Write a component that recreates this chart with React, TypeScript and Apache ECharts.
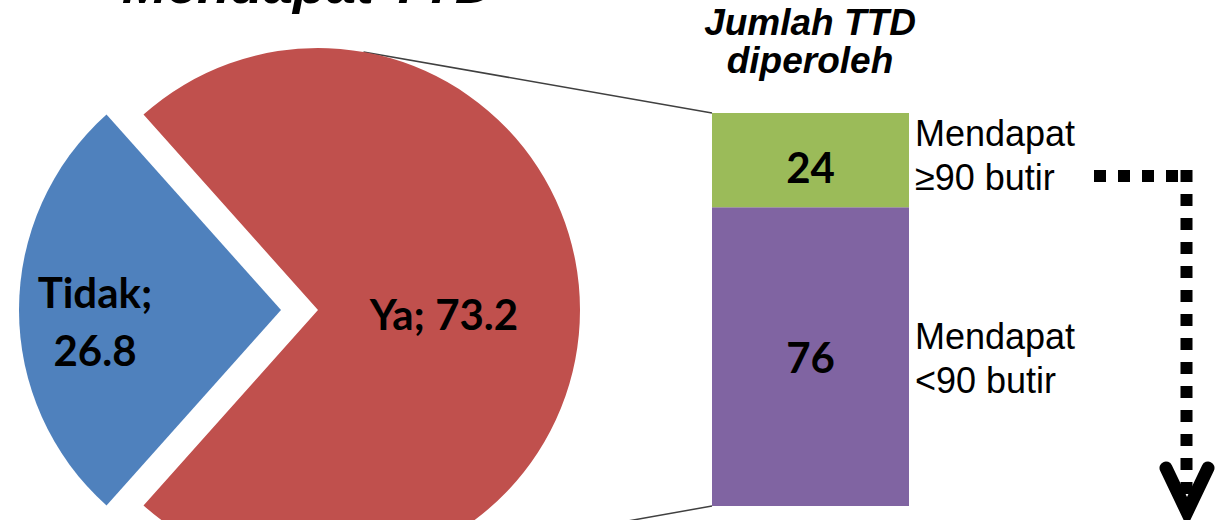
import React, { useEffect, useRef } from "react";
import * as echarts from "echarts";

const pieNames = ["Tidak", "Ya"];
const pieValues = [26.8, 73.2];
const barCategory = ["TTD"];
const barNames = ["Mendapat\n<90 butir", "Mendapat\n≥90 butir"];
const barValues = [76, 24];
const mainTitle = "Mendapat TTD";
const barTitle = "Jumlah TTD\ndiperoleh";

const W = 1219;
const H = 520;
const PIE_CX = 318;
const PIE_CY = 310;
const PIE_R = 262;
const EXPLODE = 37;
const GRID_LEFT = 712;
const GRID_TOP = 113;
const GRID_W = 197;
const GRID_H = 393;

const BLUE = "#4F81BD";
const RED = "#C0504D";
const GREEN = "#9BBB59";
const PURPLE = "#8064A2";

export default function App() {
  const ref = useRef<HTMLDivElement>(null);
  useEffect(() => {
    const chart = echarts.init(ref.current!, null, { renderer: "svg", width: W, height: H });
    const total = pieValues.reduce((a, b) => a + b, 0);
    const startAngle = 180 + ((pieValues[0] / total) * 360) / 2;
    const labelFont = { fontFamily: "Lato", fontWeight: "bold" as const, fontSize: 42, color: "#000" };
    const pieColors = [BLUE, RED];
    const barColors = [PURPLE, GREEN];

    chart.setOption({
      animation: false,
      backgroundColor: "#fff",
      grid: { left: GRID_LEFT, top: GRID_TOP, width: GRID_W, height: GRID_H },
      xAxis: { type: "category", data: barCategory, show: false },
      yAxis: { type: "value", min: 0, max: 100, show: false },
      series: [
        {
          type: "pie",
          center: [PIE_CX, PIE_CY],
          radius: PIE_R,
          startAngle,
          clockwise: true,
          selectedMode: "single",
          selectedOffset: EXPLODE,
          silent: true,
          labelLine: { show: false },
          data: pieNames.map((n, i) => ({
            name: n,
            value: pieValues[i],
            selected: i === 0,
            itemStyle: { color: pieColors[i], borderWidth: 0 },
            select: { itemStyle: { color: pieColors[i], borderWidth: 0 } },
            label: {
              show: true,
              position: "inside",
              formatter: i === 0 ? "{b};\n{c}" : "{b}; {c}",
              lineHeight: 58,
              ...labelFont,
            },
          })),
          labelLayout: (p: any) => (p.dataIndex === 0 ? { dx: -52, dy: 11 } : { dx: -4, dy: 2 }),
        },
        ...barValues.map((v, i) => ({
          type: "bar",
          name: barNames[i],
          stack: "ttd",
          barWidth: "100%",
          silent: true,
          data: [v],
          itemStyle: { color: barColors[i] },
          label: {
            show: true,
            position: "inside",
            formatter: "{c}",
            offset: i === 1 ? [0, 7] : [0, 0],
            ...labelFont,
          },
        })),
      ],
    });

    const textFont = "Liberation Sans, Arial, sans-serif";
    const pCenterLow = chart.convertToPixel({ gridIndex: 0 }, [0, barValues[0] / 2]) as number[];
    const pCenterHigh = chart.convertToPixel({ gridIndex: 0 }, [0, barValues[0] + barValues[1] / 2]) as number[];
    const pTop = chart.convertToPixel({ gridIndex: 0 }, [0, barValues[0] + barValues[1]]) as number[];
    const pBottom = chart.convertToPixel({ gridIndex: 0 }, [0, 0]) as number[];
    const rightX = GRID_LEFT + GRID_W + 6;
    const a = (80 * Math.PI) / 180;
    const pieTop = [PIE_CX + PIE_R * Math.cos(a), PIE_CY - PIE_R * Math.sin(a)];
    const pieBottom = [PIE_CX + PIE_R * Math.cos(a), PIE_CY + PIE_R * Math.sin(a)];

    chart.setOption({
      graphic: [
        {
          type: "text",
          silent: true,
          style: {
            text: mainTitle,
            x: 308,
            y: -16,
            align: "center",
            verticalAlign: "middle",
            fontFamily: textFont,
            fontWeight: "bold",
            fontStyle: "italic",
            fontSize: 54,
            fill: "#000",
          },
        },
        {
          type: "text",
          silent: true,
          style: {
            text: barTitle,
            x: 810,
            y: 41,
            align: "center",
            verticalAlign: "middle",
            fontFamily: textFont,
            fontWeight: "bold",
            fontStyle: "italic",
            fontSize: 37,
            lineHeight: 38,
            fill: "#000",
          },
        },
        {
          type: "text",
          silent: true,
          style: {
            text: barNames[1],
            x: rightX,
            y: pCenterHigh[1] - 5,
            align: "left",
            verticalAlign: "middle",
            fontFamily: textFont,
            fontSize: 36,
            lineHeight: 44,
            fill: "#000",
          },
        },
        {
          type: "text",
          silent: true,
          style: {
            text: barNames[0],
            x: rightX,
            y: pCenterLow[1] + 2,
            align: "left",
            verticalAlign: "middle",
            fontFamily: textFont,
            fontSize: 36,
            lineHeight: 44,
            fill: "#000",
          },
        },
        {
          type: "line",
          silent: true,
          shape: { x1: pieTop[0], y1: pieTop[1], x2: GRID_LEFT, y2: pTop[1] },
          style: { stroke: "#404040", lineWidth: 1.5 },
        },
        {
          type: "line",
          silent: true,
          shape: { x1: pieBottom[0], y1: pieBottom[1], x2: GRID_LEFT, y2: pBottom[1] },
          style: { stroke: "#404040", lineWidth: 1.5 },
        },
        {
          type: "line",
          silent: true,
          shape: { x1: 1094, y1: 176, x2: 1180, y2: 176 },
          style: { stroke: "#000", lineWidth: 12, lineDash: [12, 12] },
        },
        {
          type: "line",
          silent: true,
          shape: { x1: 1186.5, y1: 170, x2: 1186.5, y2: 496 },
          style: { stroke: "#000", lineWidth: 12, lineDash: [12, 12] },
        },
        {
          type: "polyline",
          silent: true,
          shape: { points: [[1166, 468], [1187, 512], [1208, 468]] },
          style: { stroke: "#000", lineWidth: 13, lineCap: "round", lineJoin: "miter", fill: "none" },
        },
      ],
    });

    return () => chart.dispose();
  }, []);

  return (
    <div
      ref={ref}
      style={{ position: "absolute", left: 0, top: 0, width: W, height: H, background: "#fff" }}
    />
  );
}
